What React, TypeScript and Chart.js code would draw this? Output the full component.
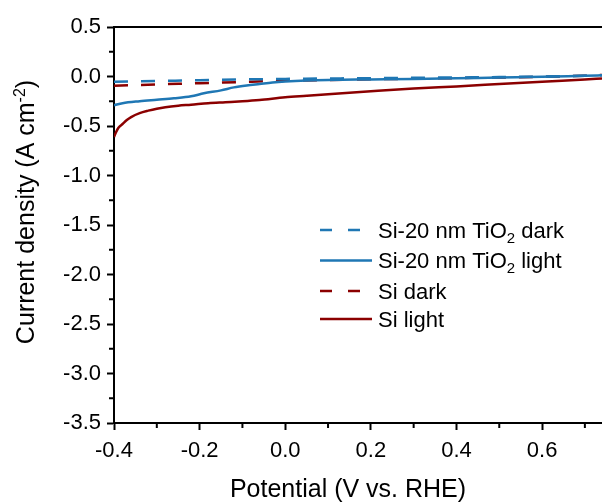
import { useEffect, useRef } from "react";
import { Chart, registerables } from "chart.js";

Chart.register(...registerables);

// ---- data ----
const darkPotential = [-0.4, -0.3, -0.2, -0.1, 0.0, 0.1, 0.2, 0.3, 0.4, 0.5, 0.6, 0.7, 0.74];
const tio2Dark = [-0.052, -0.045, -0.038, -0.03, -0.024, -0.02, -0.017, -0.013, -0.01, -0.006, 0.0, 0.008, 0.012];
const siDark = [-0.093, -0.08, -0.068, -0.055, -0.043, -0.035, -0.028, -0.022, -0.016, -0.01, -0.003, 0.008, 0.015];

const tio2LightPotential = [-0.4, -0.38, -0.34, -0.3, -0.26, -0.22, -0.19, -0.15, -0.12, -0.09, -0.06, -0.03, 0.0, 0.05, 0.1, 0.2, 0.3, 0.4, 0.5, 0.6, 0.7, 0.74];
const tio2Light = [-0.29, -0.27, -0.25, -0.235, -0.22, -0.2, -0.17, -0.14, -0.11, -0.09, -0.075, -0.06, -0.05, -0.04, -0.035, -0.03, -0.025, -0.018, -0.01, -0.003, 0.008, 0.012];

const siLightPotential = [-0.4, -0.395, -0.39, -0.38, -0.37, -0.36, -0.34, -0.32, -0.3, -0.28, -0.25, -0.22, -0.18, -0.14, -0.1, -0.06, 0.0, 0.05, 0.1, 0.2, 0.3, 0.4, 0.5, 0.6, 0.7, 0.74];
const siLight = [-0.61, -0.56, -0.52, -0.48, -0.44, -0.41, -0.37, -0.345, -0.325, -0.31, -0.295, -0.285, -0.27, -0.26, -0.25, -0.237, -0.21, -0.195, -0.18, -0.15, -0.122, -0.1, -0.076, -0.052, -0.03, -0.02];

const xTickValues = [-0.4, -0.2, 0.0, 0.2, 0.4, 0.6];
const xMinorValues = [-0.3, -0.1, 0.1, 0.3, 0.5, 0.7];
const yTickValues = [0.5, 0.0, -0.5, -1.0, -1.5, -2.0, -2.5, -3.0, -3.5];
const yMinorValues = [0.25, -0.25, -0.75, -1.25, -1.75, -2.25, -2.75, -3.25];

const BLUE = "#1f77b4";
const RED = "#8b0000";
const FONT = "'Liberation Sans', Arial, sans-serif";

type LegendItem = { main: string; sub?: string; rest?: string; color: string; dashed: boolean };
const legendItems: LegendItem[] = [
  { main: "Si-20 nm TiO", sub: "2", rest: " dark", color: BLUE, dashed: true },
  { main: "Si-20 nm TiO", sub: "2", rest: " light", color: BLUE, dashed: false },
  { main: "Si dark", color: RED, dashed: true },
  { main: "Si light", color: RED, dashed: false },
];

const pts = (xs: number[], ys: number[]) => xs.map((x, i) => ({ x, y: ys[i] }));

const decorPlugin = {
  id: "decor",
  afterDraw(chart: any) {
    const ctx: CanvasRenderingContext2D = chart.ctx;
    const area = chart.chartArea;
    const xs = chart.scales.x;
    const ys = chart.scales.y;
    ctx.save();
    // top frame line
    ctx.strokeStyle = "#000";
    ctx.lineWidth = 2;
    ctx.beginPath();
    ctx.moveTo(area.left - 1, area.top);
    ctx.lineTo(area.right, area.top);
    ctx.stroke();
    // minor ticks
    ctx.lineWidth = 2;
    xMinorValues.forEach((v) => {
      const p = xs.getPixelForValue(v);
      ctx.beginPath();
      ctx.moveTo(p, area.bottom);
      ctx.lineTo(p, area.bottom + 5);
      ctx.stroke();
    });
    yMinorValues.forEach((v) => {
      const p = ys.getPixelForValue(v);
      ctx.beginPath();
      ctx.moveTo(area.left, p);
      ctx.lineTo(area.left - 5, p);
      ctx.stroke();
    });

    // x title
    ctx.fillStyle = "#000";
    ctx.font = `25px ${FONT}`;
    ctx.textAlign = "center";
    ctx.textBaseline = "alphabetic";
    ctx.fillText("Potential (V vs. RHE)", 348, 497);

    // y title with superscript
    const mainTxt = "Current density (A cm";
    const supTxt = "-2";
    const endTxt = ")";
    ctx.font = `25px ${FONT}`;
    const w1 = ctx.measureText(mainTxt).width;
    const w3 = ctx.measureText(endTxt).width;
    ctx.font = `16px ${FONT}`;
    const w2 = ctx.measureText(supTxt).width;
    const total = w1 + w2 + w3;
    ctx.translate(34, 212);
    ctx.rotate(-Math.PI / 2);
    ctx.textAlign = "left";
    let cx = -total / 2;
    ctx.font = `25px ${FONT}`;
    ctx.fillText(mainTxt, cx, 0);
    cx += w1;
    ctx.font = `16px ${FONT}`;
    ctx.fillText(supTxt, cx, -9);
    cx += w2;
    ctx.font = `25px ${FONT}`;
    ctx.fillText(endTxt, cx, 0);
    ctx.setTransform(1, 0, 0, 1, 0, 0);

    // legend
    const rows = [230, 260.5, 291, 319];
    legendItems.forEach((it, i) => {
      const y = rows[i];
      ctx.strokeStyle = it.color;
      ctx.lineWidth = 2.5;
      ctx.setLineDash(it.dashed ? [12, 16] : []);
      ctx.beginPath();
      ctx.moveTo(320, y);
      ctx.lineTo(372, y);
      ctx.stroke();
      ctx.setLineDash([]);
      ctx.fillStyle = "#000";
      ctx.textAlign = "left";
      ctx.textBaseline = "alphabetic";
      const base = y + 7.5;
      let tx = 378;
      ctx.font = `22px ${FONT}`;
      ctx.fillText(it.main, tx, base);
      tx += ctx.measureText(it.main).width;
      if (it.sub) {
        ctx.font = `15px ${FONT}`;
        ctx.fillText(it.sub, tx, base + 5);
        tx += ctx.measureText(it.sub).width;
      }
      if (it.rest) {
        ctx.font = `22px ${FONT}`;
        ctx.fillText(it.rest, tx, base);
      }
    });
    ctx.restore();
  },
};

export default function App() {
  const ref = useRef<HTMLCanvasElement>(null);
  useEffect(() => {
    const line = (label: string, xs: number[], ys: number[], color: string, dashed: boolean) => ({
      label,
      data: pts(xs, ys),
      borderColor: color,
      backgroundColor: color,
      borderWidth: 2.5,
      borderDash: dashed ? [14, 13] : [],
      pointRadius: 0,
      fill: false,
      cubicInterpolationMode: "monotone" as const,
    });
    const chart = new Chart(ref.current!, {
      type: "line",
      data: {
        datasets: [
          line("Si light", siLightPotential, siLight, RED, false),
          line("Si-20 nm TiO2 light", tio2LightPotential, tio2Light, BLUE, false),
          line("Si-20 nm TiO2 dark", darkPotential, tio2Dark, BLUE, true),
          line("Si dark", darkPotential, siDark, RED, true),
        ],
      },
      options: {
        responsive: false,
        animation: false,
        devicePixelRatio: 1,
        layout: { padding: { left: 0, top: 27, right: 0, bottom: 0 } },
        plugins: { legend: { display: false }, tooltip: { enabled: false } },
        scales: {
          x: {
            type: "linear",
            min: -0.4,
            max: 0.74,
            afterBuildTicks: (s: any) => {
              s.ticks = xTickValues.map((v) => ({ value: v }));
            },
            afterFit: (s: any) => {
              s.height = 81;
            },
            ticks: {
              autoSkip: false,
              maxRotation: 0,
              padding: 8,
              color: "#000",
              font: { family: FONT, size: 22 },
              callback: (v: any) => Number(v).toFixed(1),
            },
            grid: {
              display: true,
              drawOnChartArea: false,
              drawTicks: true,
              tickLength: 7,
              tickWidth: 2,
              tickColor: "#000",
              color: "#000",
            },
            border: { display: true, color: "#000", width: 2 },
          },
          y: {
            type: "linear",
            min: -3.5,
            max: 0.5,
            afterBuildTicks: (s: any) => {
              s.ticks = yTickValues.map((v) => ({ value: v }));
            },
            afterFit: (s: any) => {
              s.width = 114;
            },
            ticks: {
              autoSkip: false,
              padding: 6,
              color: "#000",
              font: { family: FONT, size: 22 },
              callback: (v: any) => Number(v).toFixed(1),
            },
            grid: {
              display: true,
              drawOnChartArea: false,
              drawTicks: true,
              tickLength: 7,
              tickWidth: 2,
              tickColor: "#000",
              color: "#000",
            },
            border: { display: true, color: "#000", width: 2 },
          },
        },
      },
      plugins: [decorPlugin],
    });
    return () => chart.destroy();
  }, []);
  return (
    <div style={{ position: "fixed", left: 0, top: 0, width: 602, height: 504, background: "#fff" }}>
      <canvas ref={ref} width={602} height={504} style={{ display: "block", width: 602, height: 504 }} />
    </div>
  );
}
